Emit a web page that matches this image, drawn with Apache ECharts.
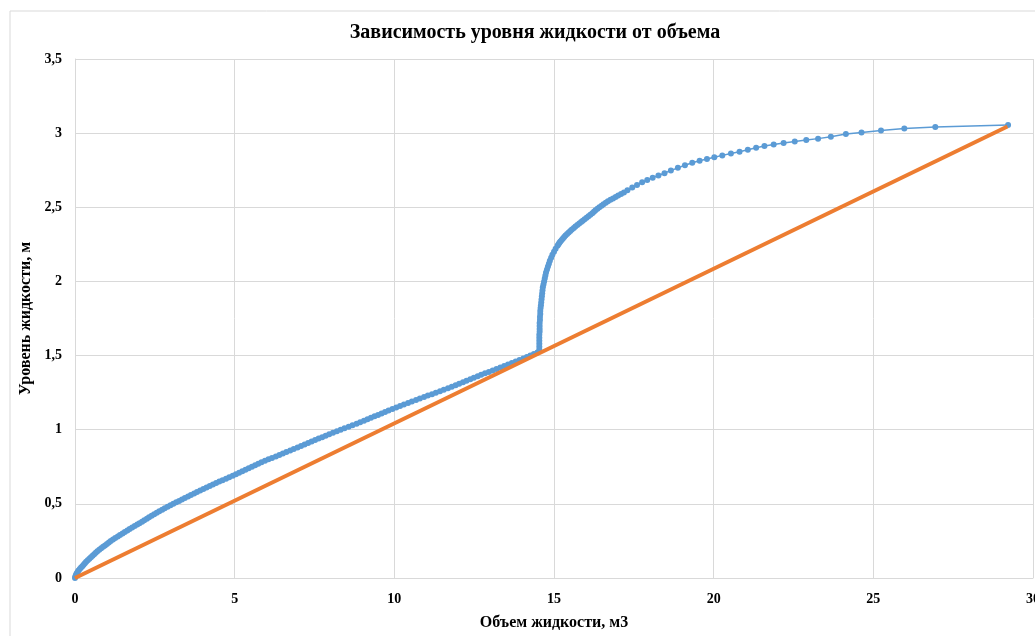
<!DOCTYPE html>
<html>
<head>
<meta charset="utf-8">
<script src="https://cdn.jsdelivr.net/npm/echarts@6/dist/echarts.min.js"></script>
<style>
html,body{margin:0;padding:0;background:#fff;}
#c{width:1035px;height:636px;}
</style>
</head>
<body>
<div id="c"></div>
<script>
// Blue series: tank level vs liquid volume
const volume = [
0.00,0.01,0.03,0.05,0.08,0.11,0.15,0.19,0.23,0.27,
0.31,0.35,0.40,0.45,0.50,0.55,0.60,0.65,0.70,0.76,
0.82,0.88,0.94,1.00,1.06,1.12,1.19,1.26,1.34,1.41,
1.49,1.56,1.64,1.71,1.79,1.87,1.95,2.02,2.10,2.17,
2.25,2.32,2.40,2.48,2.56,2.64,2.73,2.81,2.90,2.99,
3.08,3.17,3.26,3.35,3.44,3.54,3.63,3.73,3.82,3.92,
4.02,4.12,4.22,4.32,4.42,4.52,4.62,4.73,4.83,4.94,
5.04,5.14,5.24,5.34,5.44,5.54,5.64,5.74,5.84,5.95,
6.06,6.17,6.29,6.40,6.51,6.62,6.74,6.85,6.97,7.08,
7.19,7.30,7.41,7.52,7.63,7.74,7.85,7.96,8.08,8.20,
8.32,8.44,8.57,8.69,8.82,8.93,9.05,9.16,9.27,9.38,
9.49,9.60,9.71,9.82,9.94,10.06,10.18,10.30,10.43,10.55,
10.68,10.80,10.93,11.05,11.18,11.30,11.43,11.55,11.68,11.80,
11.92,12.03,12.15,12.26,12.38,12.49,12.61,12.72,12.84,12.96,
13.08,13.20,13.32,13.44,13.56,13.68,13.80,13.92,14.04,14.15,
14.26,14.37,14.48,
14.54,14.54,14.54,14.54,14.54,14.54,14.55,14.55,14.55,14.55,
14.56,14.56,14.57,14.57,14.58,14.59,14.60,14.61,14.62,14.63,
14.64,14.65,14.67,14.69,14.71,14.73,14.75,14.78,14.81,14.84,
14.87,14.91,14.95,15.00,15.05,15.11,
15.14,15.17,15.20,15.24,15.28,15.32,15.36,15.41,15.46,15.51,
15.56,15.62,15.67,15.73,15.79,15.85,15.90,15.96,16.02,16.08,
16.14,16.20,16.25,16.30,16.36,16.42,16.49,16.55,16.62,16.69,
16.77,16.85,16.93,17.01,17.10,17.19,
17.30,17.45,17.60,17.76,17.92,18.09,18.27,18.46,18.66,18.88,
19.10,19.33,19.56,19.79,20.02,20.27,20.54,
20.81,21.07,21.33,21.59,21.88,22.19,22.54,22.90,23.27,23.67,
24.14,24.63,25.24,25.97,26.94,29.22
];
const level = [
0.00,0.01,0.02,0.03,0.04,0.05,0.06,0.07,0.08,0.09,
0.10,0.11,0.12,0.13,0.14,0.15,0.16,0.17,0.18,0.19,
0.20,0.21,0.22,0.23,0.24,0.25,0.26,0.27,0.28,0.29,
0.30,0.31,0.32,0.33,0.34,0.35,0.36,0.37,0.38,0.39,
0.40,0.41,0.42,0.43,0.44,0.45,0.46,0.47,0.48,0.49,
0.50,0.51,0.52,0.53,0.54,0.55,0.56,0.57,0.58,0.59,
0.60,0.61,0.62,0.63,0.64,0.65,0.66,0.67,0.68,0.69,
0.70,0.71,0.72,0.73,0.74,0.75,0.76,0.77,0.78,0.79,
0.80,0.81,0.82,0.83,0.84,0.85,0.86,0.87,0.88,0.89,
0.90,0.91,0.92,0.93,0.94,0.95,0.96,0.97,0.98,0.99,
1.00,1.01,1.02,1.03,1.04,1.05,1.06,1.07,1.08,1.09,
1.10,1.11,1.12,1.13,1.14,1.15,1.16,1.17,1.18,1.19,
1.20,1.21,1.22,1.23,1.24,1.25,1.26,1.27,1.28,1.29,
1.30,1.31,1.32,1.33,1.34,1.35,1.36,1.37,1.38,1.39,
1.40,1.41,1.42,1.43,1.44,1.45,1.46,1.47,1.48,1.49,
1.50,1.51,1.52,
1.54,1.56,1.58,1.60,1.62,1.64,1.66,1.68,1.70,1.72,
1.74,1.76,1.78,1.80,1.82,1.84,1.86,1.88,1.90,1.92,
1.94,1.96,1.98,2.00,2.02,2.04,2.06,2.08,2.10,2.12,
2.14,2.16,2.18,2.20,2.22,2.24,
2.25,2.26,2.27,2.28,2.29,2.30,2.31,2.32,2.33,2.34,
2.35,2.36,2.37,2.38,2.39,2.40,2.41,2.42,2.43,2.44,
2.45,2.46,2.47,2.48,2.49,2.50,2.51,2.52,2.53,2.54,
2.55,2.56,2.57,2.58,2.59,2.60,
2.615,2.633,2.650,2.668,2.684,2.700,2.714,2.730,2.748,2.766,
2.783,2.800,2.814,2.826,2.838,2.850,2.863,
2.875,2.888,2.902,2.913,2.923,2.934,2.943,2.953,2.963,2.975,
2.994,3.005,3.018,3.032,3.042,3.055
];
// Orange reference line
const lineVolume = [0, 29.2];
const lineLevel = [0, 3.045];

const xTicks = [0, 5, 10, 15, 20, 25, 30];
const yTicks = [0, 0.5, 1, 1.5, 2, 2.5, 3, 3.5];

const titleText = 'Зависимость уровня жидкости от объема';
const xName = 'Объем жидкости, м3';
const yName = 'Уровень жидкости, м';

const serif = '"Liberation Serif", "DejaVu Serif", serif';
const fmt = v => String(v).replace('.', ',');

const chart = echarts.init(document.getElementById('c'), null, {renderer: 'canvas'});
chart.setOption({
  animation: false,
  backgroundColor: '#ffffff',
  graphic: [{
    type: 'rect', silent: true, z: -10,
    shape: {x: 10, y: 11, width: 1200, height: 800},
    style: {fill: 'none', stroke: '#d9d9d9', lineWidth: 1}
  }],
  title: {
    text: titleText,
    left: 530, top: 18, textAlign: 'center',
    textStyle: {fontFamily: serif, fontWeight: 'bold', fontSize: 20, color: '#000'}
  },
  grid: {left: 75, right: 2, top: 59, bottom: 58, containLabel: false, outerBoundsMode: 'none'},
  xAxis: {
    type: 'value', min: xTicks[0], max: xTicks[xTicks.length - 1], interval: 5,
    name: xName, nameLocation: 'middle', nameGap: 37,
    nameTextStyle: {fontFamily: serif, fontWeight: 'bold', fontSize: 16, color: '#000'},
    axisLine: {show: true, lineStyle: {color: '#d9d9d9', width: 1}},
    axisTick: {show: false},
    axisLabel: {formatter: fmt, margin: 14, fontFamily: serif, fontWeight: 'bold', fontSize: 14, color: '#000'},
    splitLine: {show: true, lineStyle: {color: '#d9d9d9', width: 1}}
  },
  yAxis: {
    type: 'value', min: yTicks[0], max: yTicks[yTicks.length - 1], interval: 0.5,
    name: yName, nameLocation: 'middle', nameGap: 32, nameRotate: 90,
    nameTextStyle: {fontFamily: serif, fontWeight: 'bold', fontSize: 16, color: '#000'},
    axisLine: {show: true, lineStyle: {color: '#d9d9d9', width: 1}},
    axisTick: {show: false},
    axisLabel: {formatter: fmt, margin: 13, fontFamily: serif, fontWeight: 'bold', fontSize: 14, color: '#000'},
    splitLine: {show: true, lineStyle: {color: '#d9d9d9', width: 1}}
  },
  series: [
    {
      name: 'level', type: 'line',
      data: volume.map((v, i) => [v, level[i]]),
      symbol: 'circle', symbolSize: 6, showSymbol: true, showAllSymbol: true,
      itemStyle: {color: '#5B9BD5'},
      lineStyle: {color: '#5B9BD5', width: 1.5},
      z: 2
    },
    {
      name: 'linear', type: 'line',
      data: lineVolume.map((v, i) => [v, lineLevel[i]]),
      symbol: 'none',
      lineStyle: {color: '#ED7D31', width: 4},
      z: 3
    }
  ]
});
</script>
</body>
</html>
